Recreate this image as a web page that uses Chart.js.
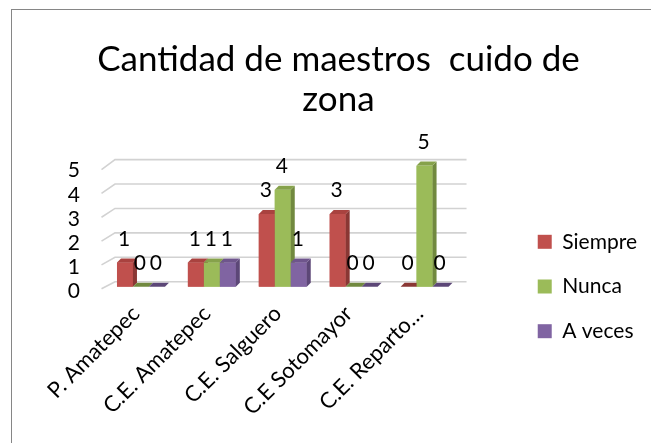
<!DOCTYPE html>
<html><head><meta charset="utf-8">
<script src="https://cdn.jsdelivr.net/npm/chart.js@4"></script>
<style>
html,body{margin:0;padding:0;background:#fff;overflow:hidden;width:651px;height:443px;}
#frame{position:absolute;left:11px;top:9px;width:660px;height:560px;border-left:1px solid #868686;border-top:1px solid #868686;}
#c{position:absolute;left:0;top:0;}
</style></head><body>
<div id="frame"><canvas id="c" width="653" height="553"></canvas></div>
<script>
const categories = ['P. Amatepec', 'C.E. Amatepec', 'C.E. Salguero', 'C.E Sotomayor', 'C.E. Reparto…'];
const siempre = [1, 1, 3, 3, 0];
const nunca = [0, 1, 4, 0, 5];
const aVeces = [0, 1, 1, 0, 0];
const seriesNames = ['Siempre', 'Nunca', 'A veces'];
const titleLines = ['Cantidad de maestros  cuido de', 'zona'];
const yMin = 0, yMax = 5, yStep = 1;

const FRONT = ['#C0504D', '#9BBB59', '#8064A2'];
const SIDE = ['#8A3734', '#71893F', '#5C4777'];
const TOP = ['#A9423F', '#86A24B', '#6E558C'];
const FONT = 'Lato';

Chart.defaults.font.family = FONT;
Chart.defaults.color = '#000';

const threeD = {
  id: 'threeD',
  beforeDatasetsDraw(chart) {
    const {ctx, chartArea, scales} = chart;
    const y = scales.y;
    ctx.save();
    ctx.strokeStyle = '#d2d2d2';
    ctx.lineWidth = 1.6;
    for (let v = yMin; v <= yMax; v += yStep) {
      const py = y.getPixelForValue(v);
      const back = py - 5 - 0.2 * v;
      ctx.beginPath();
      ctx.moveTo(chartArea.left - 4, back + 7 + 0.6 * v);
      ctx.lineTo(chartArea.left + 9.5, back);
      ctx.lineTo(chartArea.right + 6.5, back);
      ctx.stroke();
    }
    ctx.restore();
  },
  afterDatasetsDraw(chart) {
    const {ctx} = chart;
    const bars = [];
    chart.data.datasets.forEach((ds, di) => {
      const meta = chart.getDatasetMeta(di);
      meta.data.forEach((el, i) => {
        const p = el.getProps(['x', 'y', 'base', 'width'], true);
        bars.push({di, i, ...p, v: ds.data[i]});
      });
    });
    bars.sort((a, b) => a.x - b.x);
    const dx = 4, dy = 4;
    ctx.save();
    for (const b of bars) {
      const l = b.x - b.width / 2, r = b.x + b.width / 2;
      if (b.base > b.y) {
        ctx.fillStyle = FRONT[b.di];
        ctx.fillRect(l, b.y, b.width, b.base - b.y);
        ctx.fillStyle = SIDE[b.di];
        ctx.beginPath();
        ctx.moveTo(r, b.y); ctx.lineTo(r + dx, b.y - dy); ctx.lineTo(r + dx, b.base - dy); ctx.lineTo(r, b.base);
        ctx.closePath(); ctx.fill();
      }
      ctx.fillStyle = b.base > b.y ? TOP[b.di] : SIDE[b.di];
      ctx.beginPath();
      ctx.moveTo(l, b.y); ctx.lineTo(r, b.y); ctx.lineTo(r + dx, b.y - dy); ctx.lineTo(l + dx, b.y - dy);
      ctx.closePath(); ctx.fill();
    }
    ctx.fillStyle = '#000';
    ctx.font = '21px ' + FONT;
    ctx.textAlign = 'center';
    ctx.textBaseline = 'middle';
    for (const b of bars) {
      ctx.fillText(String(b.v), b.x - 1, b.y - 23.5);
    }
    ctx.restore();
  }
};

new Chart(document.getElementById('c'), {
  type: 'bar',
  data: {
    labels: categories,
    datasets: [
      {label: seriesNames[0], data: siempre, backgroundColor: FRONT[0]},
      {label: seriesNames[1], data: nunca, backgroundColor: FRONT[1]},
      {label: seriesNames[2], data: aVeces, backgroundColor: FRONT[2]}
    ]
  },
  options: {
    responsive: false,
    animation: false,
    categoryPercentage: 0.676,
    barPercentage: 1,
    layout: {padding: {left: 18, right: 18, top: 0, bottom: 0}},
    plugins: {
      title: {display: true, text: titleLines, color: '#000',
        font: {family: FONT, size: 35, weight: 'normal', lineHeight: 40 / 35},
        padding: {top: 30, bottom: 45.6}},
      legend: {position: 'right', align: 'center', maxWidth: 400,
        labels: {boxWidth: 14, boxHeight: 14, padding: 23.7, color: '#000', font: {size: 21}}},
      tooltip: {enabled: false}
    },
    scales: {
      x: {grid: {display: false, drawTicks: false}, border: {display: false},
        ticks: {color: '#000', font: {size: 22}, minRotation: 45, maxRotation: 45, padding: 14, labelOffset: -5, autoSkip: false},
        afterFit: s => { s.height = 276.3; }},
      y: {min: yMin, max: yMax, grid: {display: false, drawTicks: false}, border: {display: false},
        ticks: {stepSize: yStep, color: '#000', font: {size: 21}, padding: 25.5, labelOffset: 5, autoSkip: false},
        afterFit: s => { s.width = 75.5; }},
      yR: {position: 'right', display: true, grid: {display: false, drawTicks: false}, border: {display: false},
        ticks: {display: false}, afterFit: s => { s.width = 54; }}
    }
  },
  plugins: [threeD]
});
</script>
</body></html>
